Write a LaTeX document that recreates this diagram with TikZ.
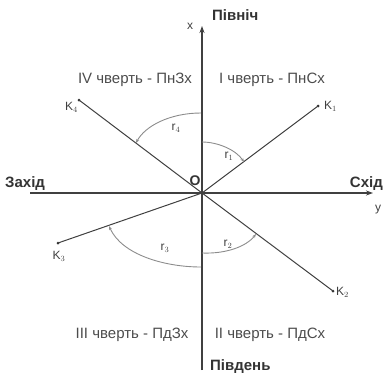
\documentclass[tikz,border=0pt]{standalone}
\usepackage{fontspec}
\setmainfont{Liberation Sans}
\usetikzlibrary{arrows.meta}
\begin{document}
\begin{tikzpicture}[x=1pt,y=-1pt,
  axis/.style={draw=black!75,line width=1.1pt},
  ray/.style={draw=black!75,line width=1pt},
  arcline/.style={draw=black!45,line width=0.9pt,-{Stealth[length=4pt,width=3pt]}},
  quad/.style={font=\fontsize{15}{15}\selectfont,text=black!70,inner sep=0pt},
  dir/.style={font=\bfseries\fontsize{15}{15}\selectfont,text=black!80,inner sep=0pt},
  lab/.style={font=\fontsize{12}{12}\selectfont,text=black!75,inner sep=0pt},
  pt/.style={circle,fill=black!80,inner sep=0pt,minimum size=3pt}]
\useasboundingbox (0,0) rectangle (383,378);
% axes
\coordinate (O) at (202,193);
\coordinate (N) at (202,26);
\coordinate (S) at (202,370);
\coordinate (W) at (30,193);
\coordinate (E) at (373,193);
\draw[axis,-{Stealth[length=7pt,width=5pt]}] (S) -- (N);
\draw[axis,-{Stealth[length=7pt,width=5pt]}] (W) -- (E);
% rays
\node[pt] (K1) at (318,106) {};
\node[pt] (K2) at (333,291) {};
\node[pt] (K3) at (58,243) {};
\node[pt] (K4) at (79,100) {};
\draw[ray] (O) -- (K1.center);
\draw[ray] (O) -- (K2.center);
\draw[ray] (O) -- (K3.center);
\draw[ray] (O) -- (K4.center);
% labels of points
\node[lab,anchor=west] (lk1) at (324,106) {K$_1$};
\node[lab,anchor=west] (lk2) at (336,292) {K$_2$};
\node[lab] (lk3) at (59,256) {K$_3$};
\node[lab,anchor=east] (lk4) at (78,107) {K$_4$};
% arcs
\coordinate (a1s) at (202,142);
\coordinate (a1e) at (244,162);
\draw[arcline] (a1s) .. controls (218,142) and (236,150) .. (a1e);
\coordinate (a4s) at (201,113);
\coordinate (a4e) at (136,143);
\draw[arcline] (a4s) .. controls (170,113) and (145,126) .. (a4e);
\coordinate (a2s) at (202,253);
\coordinate (a2e) at (256,234);
\draw[arcline] (a2s) .. controls (225,254) and (246,247) .. (a2e);
\coordinate (a3s) at (201,267);
\coordinate (a3e) at (109,226);
\draw[arcline] (a3s) .. controls (165,267) and (122,255) .. (a3e);
% arc labels
\node[lab] (r1) at (229,156) {r$_1$};
\node[lab] (r4) at (176,128) {r$_4$};
\node[lab] (r2) at (228,244) {r$_2$};
\node[lab] (r3) at (165,248) {r$_3$};
% axis labels
\node[lab] (x) at (190,26) {x};
\node[lab] (y) at (378,210) {y};
\node[font=\bfseries\fontsize{14}{14}\selectfont,text=black!80,inner sep=0pt] (o) at (195,181) {O};
\node[dir,anchor=west] (north) at (212,15) {Північ};
\node[dir,anchor=west] (south) at (210,367) {Південь};
\node[dir,anchor=west] (west) at (5,184) {Захід};
\node[dir,anchor=east] (east) at (383,184) {Схід};
% quadrants
\node[quad] (q4) at (135,80) {IV чверть - ПнЗх};
\node[quad] (q1) at (272,80) {І чверть - ПнСх};
\node[quad] (q3) at (132,335) {ІІІ чверть - ПдЗх};
\node[quad] (q2) at (270,335) {ІІ чверть - ПдСх};
\end{tikzpicture}
\end{document}
